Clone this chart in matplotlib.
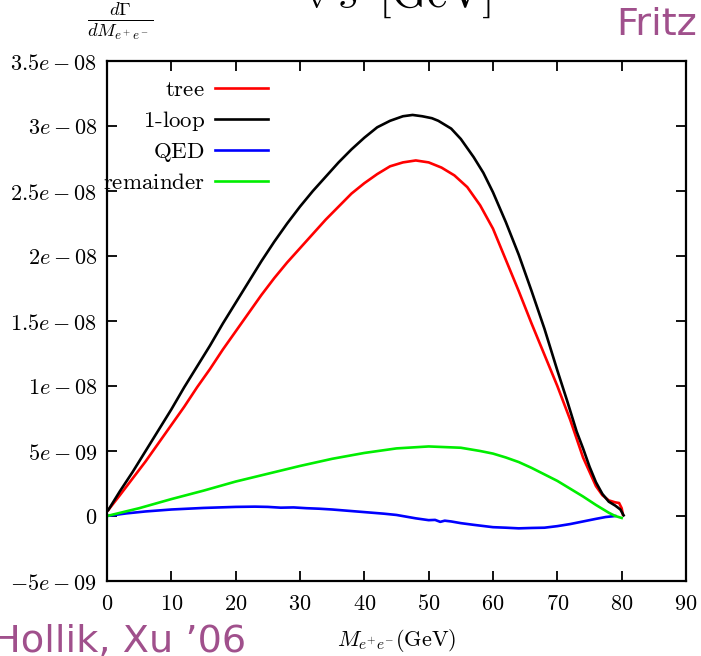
import numpy as np
import matplotlib as mpl
mpl.use('Agg')
import matplotlib.pyplot as plt

# values, in units of 1e-9
x_tree = [0.2, 2, 4, 6, 8, 10, 12, 14, 16, 18, 20, 22, 24, 26, 28, 30, 32, 34, 36, 38, 40,
          42, 44, 46, 48, 50, 52, 54, 56, 58, 60, 62, 64, 66, 68, 70, 72, 74, 75, 76, 77,
          78, 79, 79.6, 80, 80.2]
tree = [0.46, 1.6, 2.9, 4.2, 5.6, 7.0, 8.4, 9.9, 11.3, 12.8, 14.2, 15.6, 17.0, 18.3, 19.5,
        20.6, 21.7, 22.8, 23.8, 24.8, 25.6, 26.3, 26.9, 27.2, 27.35, 27.2, 26.8, 26.2, 25.3,
        23.9, 22.1, 19.7, 17.3, 14.8, 12.4, 10.0, 7.4, 4.5, 3.4, 2.3, 1.6, 1.2, 1.05, 1.0,
        0.6, 0.1]

x_loop = [0.2, 2, 4, 6, 8, 10, 12, 14, 16, 18, 20, 22, 24, 26, 28, 30, 32, 34, 36, 38, 40,
          42, 44, 46, 47.5, 49, 50.5, 51.5, 52.5, 53.5, 55, 57, 58.5, 60, 62, 64, 66, 68, 70,
          71.5, 73, 74, 75, 76, 77, 78, 79, 79.8, 80.3]
loop = [0.46, 1.9, 3.4, 5.0, 6.6, 8.2, 9.9, 11.5, 13.1, 14.8, 16.4, 18.0, 19.6, 21.1, 22.5,
        23.8, 25.0, 26.1, 27.2, 28.2, 29.1, 29.9, 30.4, 30.75, 30.85, 30.75, 30.6, 30.4,
        30.1, 29.8, 29.0, 27.6, 26.4, 24.9, 22.6, 20.1, 17.3, 14.4, 11.2, 8.9, 6.5, 5.2,
        3.8, 2.6, 1.7, 1.1, 0.8, 0.5, 0.05]

x_qed = [0, 3, 6, 10, 15, 20, 23, 25, 27, 29, 31, 33, 35, 38, 40, 43, 45, 48, 50, 51, 51.8,
         52.5, 53.5, 55, 57, 60, 62, 64, 66, 68, 70, 72, 74, 76, 77.5, 79]
qed = [0, 0.2, 0.35, 0.5, 0.62, 0.7, 0.72, 0.7, 0.64, 0.66, 0.6, 0.56, 0.5, 0.38, 0.3,
       0.18, 0.08, -0.18, -0.32, -0.3, -0.45, -0.36, -0.42, -0.55, -0.68, -0.86, -0.9,
       -0.95, -0.92, -0.9, -0.78, -0.62, -0.42, -0.22, -0.08, 0.0]

x_rem = [0, 5, 10, 15, 20, 25, 30, 35, 40, 45, 50, 55, 58, 60, 62, 64, 66, 68, 70, 72, 74,
         76, 78, 79, 80]
rem = [0, 0.6, 1.3, 1.95, 2.65, 3.25, 3.85, 4.4, 4.85, 5.2, 5.35, 5.25, 5.0, 4.8, 4.5,
       4.15, 3.7, 3.2, 2.7, 2.1, 1.5, 0.85, 0.25, 0.0, -0.15]

xticks = [0, 10, 20, 30, 40, 50, 60, 70, 80, 90]
yticks = [-5e-9, 0, 5e-9, 1e-8, 1.5e-8, 2e-8, 2.5e-8, 3e-8, 3.5e-8]
ylabels = [r'$-5e-09$', r'$0$', r'$5e-09$', r'$1e-08$', r'$1.5e-08$',
           r'$2e-08$', r'$2.5e-08$', r'$3e-08$', r'$3.5e-08$']

mpl.rcParams['mathtext.fontset'] = 'cm'
mpl.rcParams['font.family'] = 'serif'
mpl.rcParams['font.serif'] = ['DejaVu Serif']

purple = '#a0508c'

fig = plt.figure(figsize=(7.01, 6.56), dpi=100)
ax = fig.add_axes([107/701, 75/656, 579/701, 520/656])

lw = 1.9
ax.plot(x_tree, np.array(tree)*1e-9, color='#ff0000', lw=lw, label='tree')
ax.plot(x_loop, np.array(loop)*1e-9, color='black', lw=lw, label='1-loop')
ax.plot(x_qed, np.array(qed)*1e-9, color='#0000ff', lw=lw, label='QED')
ax.plot(x_rem, np.array(rem)*1e-9, color='#00ee00', lw=lw, label='remainder')

ax.set_xlim(0, 90)
ax.set_ylim(-5e-9, 3.5e-8)
ax.set_xticks(xticks)
ax.set_xticklabels([r'$%d$' % t for t in xticks])
ax.set_yticks(yticks)
ax.set_yticklabels(ylabels)
ax.tick_params(direction='in', length=7, width=1.3, top=True, right=True,
               labelsize=16, pad=7)
ax.tick_params(axis='x', pad=9)
for s in ax.spines.values():
    s.set_linewidth(1.6)

ax.set_xlabel(r'$M_{e^{+}e^{-}}(\mathrm{GeV})$', fontsize=16, labelpad=8)

leg = ax.legend(loc='upper right', bbox_to_anchor=(0.278, 0.966), markerfirst=False,
                frameon=False, fontsize=16.5, handlelength=2.3, handletextpad=0.45,
                labelspacing=0.36, borderpad=0, borderaxespad=0)
for t in leg.get_texts():
    t.set_text(r'$\mathrm{%s}$' % t.get_text().replace('-', '\\text{-}'))

fig.text(120/701, 1 - 21/656, r'$\frac{d\Gamma}{dM_{e^+e^-}}$', fontsize=19,
         ha='center', va='center')
fig.text(397/701, 1 - 8/656, r'$\sqrt{s}\ [\mathrm{GeV}]$', fontsize=33,
         ha='center', va='baseline')
fig.text(616/701, 1 - 35/656, 'Fritz', fontsize=27.5, color=purple,
         family='DejaVu Sans', ha='left', va='baseline')
fig.text(246/701, 1 - 652/656, "Hollik, Xu \u201906", fontsize=27.5, color=purple,
         family='DejaVu Sans', ha='right', va='baseline')

fig.savefig('out.png', dpi=100)
